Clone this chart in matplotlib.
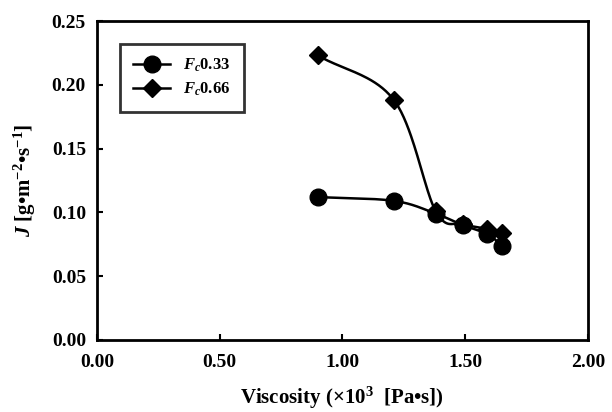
import numpy as np
import matplotlib
matplotlib.use("Agg")
import matplotlib.pyplot as plt

plt.rcParams['font.family'] = ['Liberation Serif', 'DejaVu Serif']
plt.rcParams['font.weight'] = 'bold'
plt.rcParams['mathtext.fontset'] = 'custom'
plt.rcParams['mathtext.rm'] = 'Liberation Serif:bold'
plt.rcParams['mathtext.it'] = 'Liberation Serif:italic:bold'
plt.rcParams['mathtext.bf'] = 'Liberation Serif:bold'

# Data
visc_033 = [0.90, 1.21, 1.38, 1.49, 1.59, 1.65]
flux_033 = [0.112, 0.109, 0.099, 0.090, 0.083, 0.074]
visc_066 = [0.90, 1.21, 1.38, 1.49, 1.59, 1.65]
flux_066 = [0.223, 0.188, 0.101, 0.091, 0.087, 0.084]
labels = [r'$F_c$0.33', r'$F_c$0.66']
xticks = [0.0, 0.5, 1.0, 1.5, 2.0]
yticks = [0.0, 0.05, 0.10, 0.15, 0.20, 0.25]


def smooth(x, y, n=40):
    # Catmull-Rom spline through points (Excel-like smoothed line)
    x = np.asarray(x, float); y = np.asarray(y, float)
    P = np.column_stack([x, y])
    P = np.vstack([P[0] - (P[1] - P[0]), P, P[-1] + (P[-1] - P[-2])])
    out = []
    for i in range(1, len(P) - 2):
        p0, p1, p2, p3 = P[i - 1], P[i], P[i + 1], P[i + 2]
        t = np.linspace(0, 1, n)[:, None]
        seg = 0.5 * ((2 * p1) + (-p0 + p2) * t + (2 * p0 - 5 * p1 + 4 * p2 - p3) * t ** 2
                     + (-p0 + 3 * p1 - 3 * p2 + p3) * t ** 3)
        out.append(seg)
    out = np.vstack(out)
    return out[:, 0], out[:, 1]


fig = plt.figure(figsize=(6.12, 4.12), dpi=100)
ax = fig.add_axes([0.1585, 0.175, 0.802, 0.774])

for xs, ys, mk, ms, lab in [(visc_033, flux_033, 'o', 12, labels[0]),
                            (visc_066, flux_066, 'D', 9, labels[1])]:
    sx, sy = smooth(xs, ys)
    ax.plot(sx, sy, color='black', lw=1.8)
    ax.plot(xs, ys, linestyle='none', marker=mk, ms=ms, color='black')
    ax.plot([], [], color='black', lw=1.8, marker=mk, ms=ms, label=lab)

ax.set_xlim(0, 2.0)
ax.set_ylim(0, 0.25)
ax.set_xticks(xticks)
ax.set_yticks(yticks)
ax.set_xticklabels([f'{v:.2f}' for v in xticks], fontsize=14, fontweight='bold')
ax.set_yticklabels([f'{v:.2f}' for v in yticks], fontsize=14, fontweight='bold')
ax.tick_params(direction='in', length=4, width=1.5)
ax.tick_params(axis='x', pad=10)
ax.tick_params(axis='y', pad=8)
for s in ax.spines.values():
    s.set_linewidth(2)

ax.set_xlabel('Viscosity (×10$^{3}$  [Pa•s])', fontsize=15, fontweight='bold', labelpad=10)
ax.set_ylabel('$J$ [g•m$^{-2}$•s$^{-1}$]', fontsize=15, fontweight='bold', labelpad=10)

leg = ax.legend(loc='upper left', bbox_to_anchor=(0.03, 0.955), frameon=True, fancybox=False,
                edgecolor='black', handlelength=2.2, borderpad=0.8,
                labelspacing=0.4, prop={'weight': 'bold', 'size': 12})
leg.get_frame().set_linewidth(2)

fig.savefig('out.png', dpi=100)
